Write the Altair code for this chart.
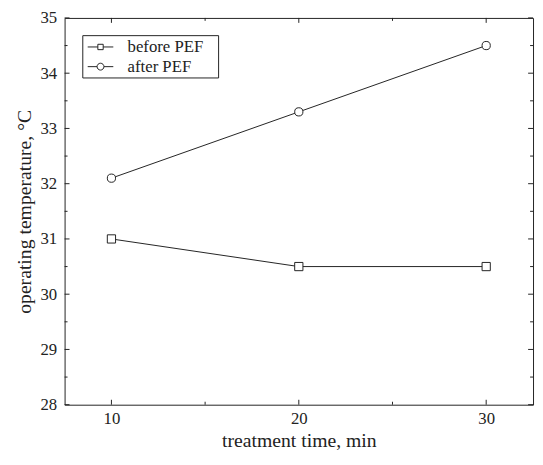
import altair as alt
import pandas as pd

# ---- data ----
times = [10, 20, 30]
before_pef = [31.0, 30.5, 30.5]
after_pef = [32.1, 33.3, 34.5]
series_names = ["before PEF", "after PEF"]

x_major_ticks = [10, 20, 30]
x_minor_ticks = [15, 25]
y_major_ticks = [28, 29, 30, 31, 32, 33, 34, 35]
y_minor_ticks = [28.5, 29.5, 30.5, 31.5, 32.5, 33.5, 34.5]

x_title = "treatment time, min"
y_title = "operating temperature, °C"

# ---- styling ----
FONT = "Liberation Serif"
INK = "#222222"
W, H = 476, 393
MAJ, MIN = 5, 3
PAD_CHAR = "\u2800"  # blank glyph used only to widen the legend box on the right

df = pd.DataFrame({
    "time": times * 2,
    "temp": before_pef + after_pef,
    "series": [series_names[0]] * len(times) + [series_names[1]] * len(times),
})

xs = alt.Scale(domain=[7.5, 32.5], nice=False, zero=False)
ys = alt.Scale(domain=[28, 35], nice=False, zero=False)

x_axis = alt.Axis(values=x_major_ticks, format="d", title=x_title, grid=False,
                  ticks=False, tickSize=0, domain=False, labelPadding=6,
                  titlePadding=4)
y_axis = alt.Axis(values=y_major_ticks, format="d", title=y_title, grid=False,
                  ticks=False, tickSize=0, domain=False, labelPadding=8,
                  titlePadding=6)

lines = alt.Chart(df).mark_line(color=INK, strokeWidth=1).encode(
    x=alt.X("time:Q", scale=xs, axis=x_axis),
    y=alt.Y("temp:Q", scale=ys, axis=y_axis),
    detail="series:N",
)

points = alt.Chart(df).mark_point(filled=True, fill="white", stroke=INK,
                                  strokeWidth=1, opacity=1, size=70).encode(
    x=alt.X("time:Q", scale=xs, axis=x_axis),
    y=alt.Y("temp:Q", scale=ys, axis=y_axis),
    shape=alt.Shape("series:N", sort=series_names,
                    scale=alt.Scale(domain=series_names, range=["square", "circle"]),
                    legend=None),
)

# legend symbols: line + marker drawn as custom paths
sq = "M-0.765,0H0.445M1.085,0H2.294M0.445,-0.32H1.085V0.32H0.445Z"
ci = ("M-0.765,0H0.355M1.175,0H2.294"
      "M0.355,0A0.41,0.41,0,1,1,1.175,0A0.41,0.41,0,1,1,0.355,0Z")

legend_layer = alt.Chart(df).transform_filter("false").mark_point(
    filled=False, stroke=INK, strokeWidth=1, opacity=1).encode(
    x=alt.X("time:Q", scale=xs, axis=x_axis),
    y=alt.Y("temp:Q", scale=ys, axis=y_axis),
    shape=alt.Shape("series:N", sort=series_names,
                    scale=alt.Scale(domain=series_names, range=[sq, ci]),
                    legend=alt.Legend(title=None, orient="none", legendX=18, legendY=17.5,
                                      padding=3, strokeColor=INK, fillColor="white",
                                      symbolSize=289, symbolOpacity=1,
                                      symbolFillColor="white", symbolStrokeColor=INK,
                                      symbolStrokeWidth=1, labelFont=FONT,
                                      labelFontSize=17, labelColor=INK, labelOffset=25,
                                      rowPadding=3,
                                      labelExpr="datum.label + '" + PAD_CHAR + "'")),
)


def xticks(vals, top, length):
    y0 = 0 if top else H
    y1 = length if top else H - length
    return alt.Chart(pd.DataFrame({"v": vals})).mark_rule(color=INK, strokeWidth=1).encode(
        x=alt.X("v:Q", scale=xs, axis=x_axis), y=alt.value(y0), y2=alt.value(y1))


def yticks(vals, right, length):
    x0 = W if right else 0
    x1 = W - length if right else length
    return alt.Chart(pd.DataFrame({"v": vals})).mark_rule(color=INK, strokeWidth=1).encode(
        y=alt.Y("v:Q", scale=ys, axis=y_axis), x=alt.value(x0), x2=alt.value(x1))


tick_layers = [
    xticks(x_major_ticks, False, MAJ), xticks(x_minor_ticks, False, MIN),
    xticks(x_major_ticks, True, MAJ), xticks(x_minor_ticks, True, MIN),
    yticks(y_major_ticks, False, MAJ), yticks(y_minor_ticks, False, MIN),
    yticks(y_major_ticks, True, MAJ), yticks(y_minor_ticks, True, MIN),
]

chart = alt.layer(lines, points, legend_layer, *tick_layers).resolve_scale(
    shape="independent"
).properties(
    width=W, height=H,
    background="white",
    autosize=alt.AutoSizeParams(type="none"),
    padding={"left": 57.5, "top": 6.5, "right": 2, "bottom": 46.5},
).configure_view(
    stroke=INK, strokeWidth=1
).configure_axis(
    labelFont=FONT, labelFontSize=17, labelColor=INK,
    titleFont=FONT, titleFontSize=20, titleFontWeight="normal", titleColor=INK,
)

chart.save("out.html", embed_options={"renderer": "svg", "actions": False})
